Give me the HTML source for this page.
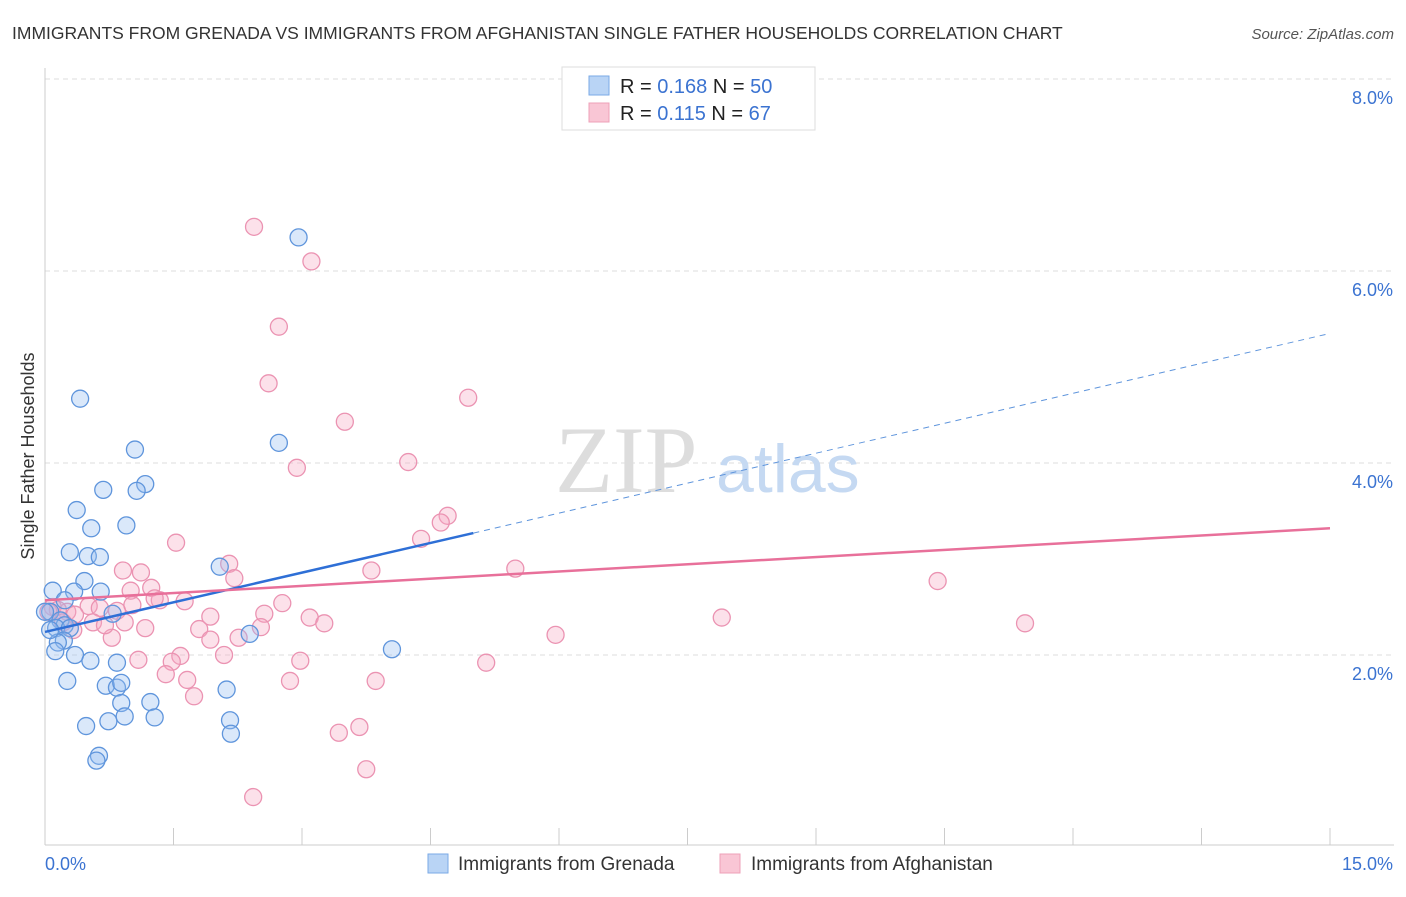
<!DOCTYPE html>
<html><head><meta charset="utf-8">
<style>
body{margin:0;background:#fff;font-family:"Liberation Sans",sans-serif;}
#wrap{position:relative;width:1406px;height:892px;}
</style></head>
<body>
<div id="wrap">
<svg id="svg" width="1406" height="892" xmlns="http://www.w3.org/2000/svg">
<text x="12" y="39" font-size="17.5" fill="#333">IMMIGRANTS FROM GRENADA VS IMMIGRANTS FROM AFGHANISTAN SINGLE FATHER HOUSEHOLDS CORRELATION CHART</text>
<text x="1394" y="39" font-size="15" fill="#555" font-style="italic" text-anchor="end">Source: ZipAtlas.com</text>
<g id="grid"></g>
<text x="555" y="492" font-size="95" fill="#ddd" font-family="Liberation Serif,serif">ZIP</text>
<text x="716" y="492" font-size="68" fill="#c5d9f2">atlas</text>
<line x1="45" y1="68" x2="45" y2="845" stroke="#ccc"/>
<line x1="45" y1="845" x2="1394" y2="845" stroke="#ccc"/>
<g id="ticks"></g>
<g id="pts"></g>
<g id="trends"></g>
<text x="45" y="870" font-size="18" fill="#3b73d1">0.0%</text>
<text x="1393" y="870" font-size="18" fill="#3b73d1" text-anchor="end">15.0%</text>
<text transform="translate(34,456) rotate(-90)" font-size="18" fill="#333" text-anchor="middle">Single Father Households</text>
<g>
<rect x="562" y="67" width="253" height="63" fill="#fff" stroke="#ddd"/>
<rect x="589" y="76" width="20" height="19" fill="#b9d4f5" stroke="#7aaae6"/>
<rect x="589" y="103" width="20" height="19" fill="#f9c6d5" stroke="#eea0b8"/>
<text x="620" y="93" font-size="20" fill="#222">R = <tspan fill="#3b73d1">0.168</tspan>   N = <tspan fill="#3b73d1">50</tspan></text>
<text x="620" y="120" font-size="20" fill="#222">R =  <tspan fill="#3b73d1">0.115</tspan>   N =  <tspan fill="#3b73d1">67</tspan></text>
</g>
<g>
<rect x="428" y="854" width="20" height="19" fill="#b9d4f5" stroke="#7aaae6"/>
<text x="458" y="870" font-size="19" fill="#333">Immigrants from Grenada</text>
<rect x="720" y="854" width="20" height="19" fill="#f9c6d5" stroke="#eea0b8"/>
<text x="751" y="870" font-size="19" fill="#333">Immigrants from Afghanistan</text>
</g>
</svg>
</div>
<script>
const yTicks=[2,4,6,8];
const yTickLabels=["2.0%","4.0%","6.0%","8.0%"];
const xTicks=[0,1.5,3,4.5,6,7.5,9,10.5,12,13.5,15];
const blueX=[2.96,0.41,1.05,2.73,0.68,1.17,1.07,0.37,0.54,0.95,0.29,0.50,0.64,0.46,0.09,0.34,0.65,2.04,0.06,0.79,0.18,0.23,0.13,0.29,2.39,0.22,0.15,0.12,0.35,0.53,0.84,4.05,0.26,0.71,0.84,0.89,2.12,1.23,0.89,0.48,0.74,0.93,1.28,2.16,2.17,0.63,0.60,0,0.06,0.23];
const blueY=[6.35,4.67,4.14,4.21,3.72,3.78,3.71,3.51,3.32,3.35,3.07,3.03,3.02,2.77,2.67,2.66,2.66,2.92,2.45,2.43,2.36,2.31,2.28,2.28,2.22,2.15,2.13,2.04,2.00,1.94,1.92,2.06,1.73,1.68,1.66,1.71,1.64,1.51,1.50,1.26,1.31,1.36,1.35,1.32,1.18,0.95,0.90,2.45,2.26,2.57];
const pinkX=[2.44,3.11,2.73,2.61,3.50,4.94,2.94,4.24,4.70,4.62,4.39,1.53,2.15,2.21,0.91,1.12,5.49,3.81,10.42,1.00,1.24,1.34,1.63,2.77,0.09,0.26,0.51,0.64,0.84,1.93,2.56,3.09,3.26,7.90,11.44,0.56,0.93,1.17,1.80,2.52,2.26,0.78,0.33,5.96,1.58,1.09,1.48,2.09,2.98,5.15,1.41,1.66,2.86,3.86,1.74,3.67,3.43,3.75,2.43,0.15,0.21,0.04,0.35,0.70,1.02,1.28,1.93];
const pinkY=[6.46,6.10,5.42,4.83,4.43,4.68,3.95,4.01,3.45,3.38,3.21,3.17,2.95,2.80,2.88,2.86,2.90,2.88,2.77,2.67,2.70,2.57,2.56,2.54,2.50,2.45,2.51,2.49,2.46,2.40,2.43,2.39,2.33,2.39,2.33,2.34,2.34,2.28,2.27,2.29,2.18,2.18,2.26,2.21,1.99,1.95,1.93,2.00,1.94,1.92,1.80,1.74,1.73,1.73,1.57,1.25,1.19,0.81,0.52,2.47,2.34,2.45,2.42,2.31,2.52,2.59,2.16];
const blueTrend=[2.24,3.27,5.35]; // y at x=0, x=5.0, x=15
const blueSolidEnd=5.0;
const pinkTrend=[2.57,3.32]; // y at x=0, x=15
const NS="http://www.w3.org/2000/svg";
const sx=v=>45+v/15*1285;
const sy=v=>847-v*96;
function mk(tag,attrs,parent){const e=document.createElementNS(NS,tag);for(const k in attrs)e.setAttribute(k,attrs[k]);parent.appendChild(e);return e;}
const grid=document.getElementById('grid');
yTicks.forEach((t,i)=>{
  const l=mk('line',{x1:45,x2:1394,y1:sy(t),y2:sy(t),stroke:'#ddd','stroke-dasharray':'5,4'},grid);
  
  
  const tx=mk('text',{x:1393,y:sy(t)+25,'font-size':18,fill:'#3b73d1','text-anchor':'end'},grid);
  tx.textContent=yTickLabels[i];
  
  
});
const ticks=document.getElementById('ticks');
xTicks.forEach(t=>{
  const l=mk('line',{x1:sx(t),x2:sx(t),y1:828,y2:845,stroke:'#ccc'},ticks);
  
  
});
const pts=document.getElementById('pts');
pinkX.forEach((x,i)=>{
  const c=mk('circle',{cx:sx(x),cy:sy(pinkY[i]),r:8.5,fill:'rgba(246,170,196,0.35)',stroke:'#eb93b2','stroke-width':1.3},pts);
  
  
});
blueX.forEach((x,i)=>{
  const c=mk('circle',{cx:sx(x),cy:sy(blueY[i]),r:8.5,fill:'rgba(150,190,240,0.35)',stroke:'#5f95dc','stroke-width':1.3},pts);
  
  
});
const tr=document.getElementById('trends');
let l1=mk('line',{x1:sx(0),y1:sy(blueTrend[0]),x2:sx(blueSolidEnd),y2:sy(blueTrend[1]),stroke:'#2e6fd6','stroke-width':2.5},tr);


let l2=mk('line',{x1:sx(blueSolidEnd),y1:sy(blueTrend[1]),x2:sx(15),y2:sy(blueTrend[2]),stroke:'#5f95dc','stroke-width':1,'stroke-dasharray':'6,5'},tr);


let l3=mk('line',{x1:sx(0),y1:sy(pinkTrend[0]),x2:sx(15),y2:sy(pinkTrend[1]),stroke:'#e8709a','stroke-width':2.5},tr);


</script>
</body></html>
